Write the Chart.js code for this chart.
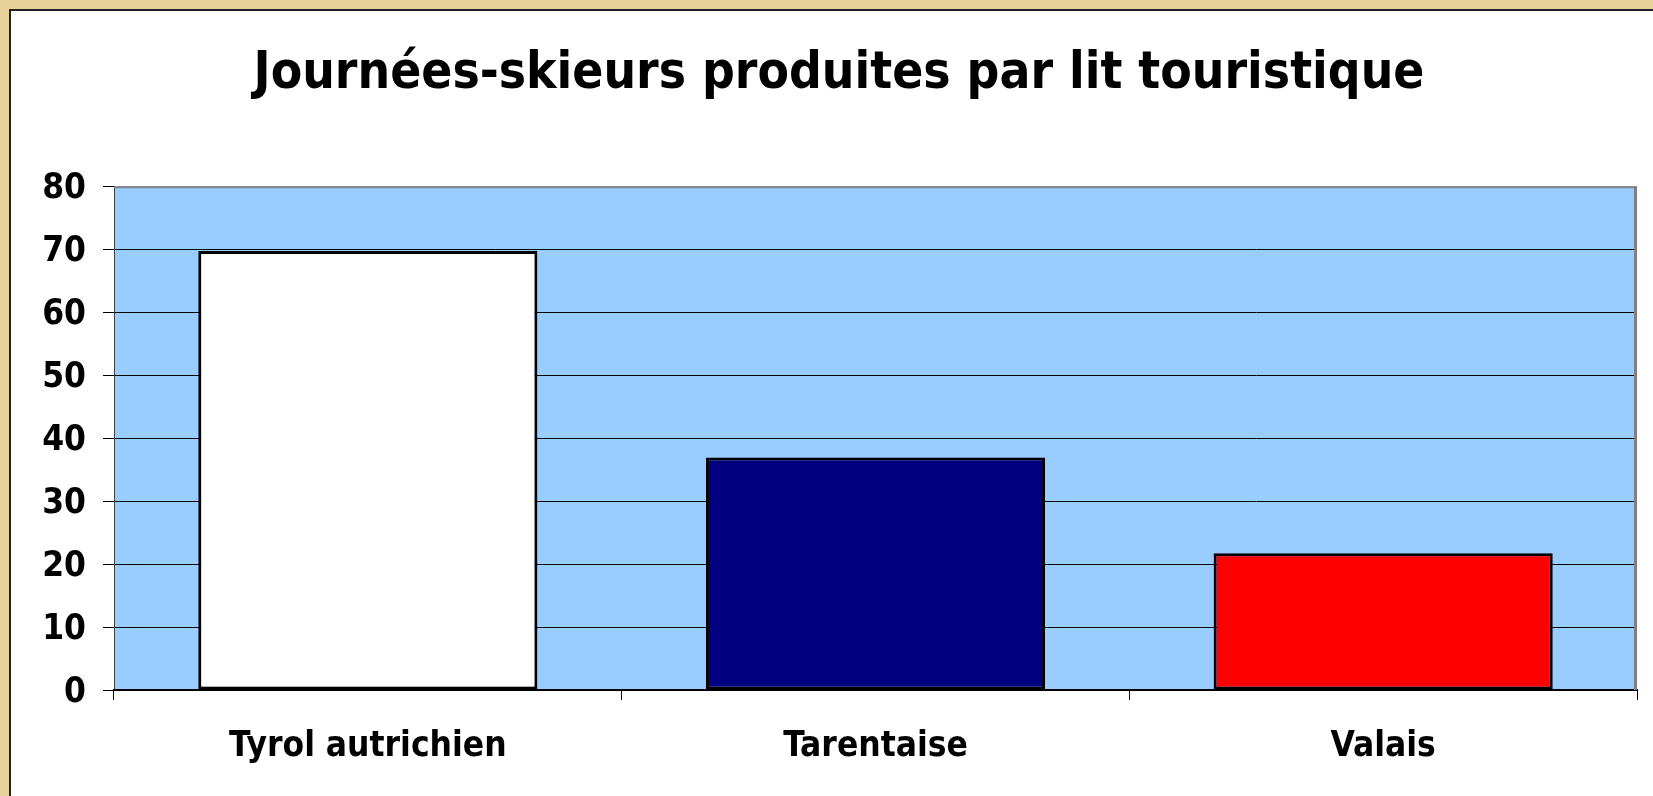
<!DOCTYPE html>
<html><head><meta charset="utf-8">
<script src="https://cdn.jsdelivr.net/npm/chart.js@4"></script>
<style>
html,body{margin:0;padding:0;width:1653px;height:796px;overflow:hidden;background:#E8D49A;}
#panel{position:absolute;left:9px;top:9px;width:1700px;height:900px;background:#fff;border-left:2px solid #222;border-top:2px solid #222;}
#c{position:absolute;left:0;top:0;}
</style></head>
<body>
<div id="panel"></div>
<canvas id="c" width="1653" height="796"></canvas>
<script>
// ---- data ----
const categories = ["Tyrol autrichien", "Tarentaise", "Valais"];
const values = [69.7, 36.9, 21.7];
const barColors = ["#FFFFFF", "#000080", "#FF0000"];
const yMin = 0, yMax = 80, yStep = 10;
const titleText = "Journées-skieurs produites par lit touristique";

const FONT = '"DejaVu Sans Condensed", "DejaVu Sans", sans-serif';

const plotBg = {
  id: 'plotBg',
  beforeDraw(chart) {
    const {ctx, chartArea: a} = chart;
    ctx.save();
    ctx.fillStyle = '#99CCFF';
    ctx.fillRect(a.left, a.top, a.right - a.left, a.bottom - a.top);
    ctx.restore();
  },
  afterDraw(chart) {
    const {ctx, chartArea: a} = chart;
    ctx.save();
    ctx.strokeStyle = '#808080';
    ctx.lineWidth = 2;
    ctx.beginPath();
    ctx.moveTo(a.left, a.top + 1);
    ctx.lineTo(a.right, a.top + 1);
    ctx.stroke();
    ctx.lineWidth = 3;
    ctx.beginPath();
    ctx.moveTo(a.right - 1.5, a.top);
    ctx.lineTo(a.right - 1.5, a.bottom);
    ctx.stroke();
    ctx.restore();
  }
};

new Chart(document.getElementById('c'), {
  type: 'bar',
  data: {
    labels: categories,
    datasets: [{
      data: values,
      backgroundColor: barColors,
      borderColor: '#000000',
      borderWidth: 3,
      borderSkipped: false,
      categoryPercentage: 1.0,
      barPercentage: 0.668
    }]
  },
  options: {
    responsive: false,
    devicePixelRatio: 1,
    animation: false,
    layout: { padding: { left: 41, right: 16, top: 0, bottom: 0 } },
    plugins: {
      legend: { display: false },
      tooltip: { enabled: false },
      title: {
        display: true,
        text: titleText,
        color: '#000',
        font: { family: FONT, size: 51, weight: 'bold', lineHeight: 1.2 },
        padding: { top: 44, bottom: 81 }
      }
    },
    scales: {
      y: {
        min: yMin, max: yMax,
        ticks: {
          stepSize: yStep,
          color: '#000',
          padding: 17,
          labelOffset: 3,
          font: { family: FONT, size: 35, weight: 'bold' }
        },
        grid: {
          color: (c) => (c.tick && c.tick.value === yMax) ? 'rgba(0,0,0,0)' : '#000000',
          tickColor: '#000000',
          tickLength: 11,
          lineWidth: 1
        },
        border: { display: true, color: '#404040', width: 1 },
        afterFit(scale) { scale.width = 73; }
      },
      x: {
        ticks: {
          color: '#000',
          padding: 26,
          font: { family: FONT, size: 35, weight: 'bold' }
        },
        grid: {
          drawOnChartArea: false,
          offset: true,
          tickColor: '#000000',
          tickLength: 10,
          lineWidth: 1
        },
        border: { display: true, color: '#000000', width: 2 },
        afterFit(scale) { scale.height = 106; }
      }
    }
  },
  plugins: [plotBg]
});
</script>
</body></html>
